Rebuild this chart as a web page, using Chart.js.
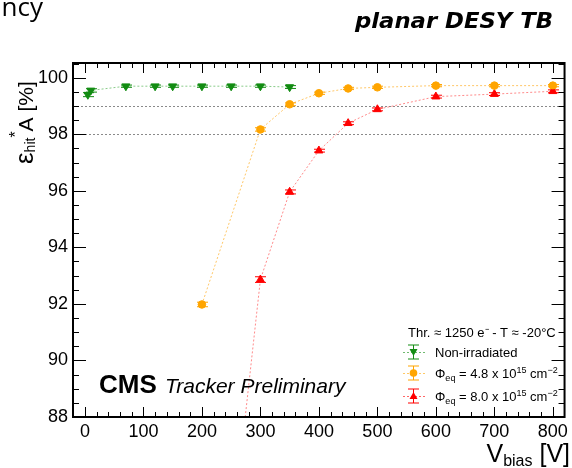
<!DOCTYPE html>
<html><head><meta charset="utf-8">
<script src="https://cdn.jsdelivr.net/npm/chart.js@4.4.1/dist/chart.umd.min.js"></script>
<style>html,body{margin:0;padding:0;background:#fff;overflow:hidden}canvas{display:block}</style>
</head><body>
<canvas id="c" width="572" height="468"></canvas>
<script>
// ---- data ----
const xTicks = [0,100,200,300,400,500,600,700,800];
const yTicks = [88,90,92,94,96,98,100];
const refLines = [98,99];

const vNonIrr   = [5,10,70,120,150,200,250,300,350];
const effNonIrr = [99.40,99.55,99.70,99.70,99.70,99.70,99.70,99.70,99.67];
const errNonIrr = [0.07,0.06,0.04,0.04,0.04,0.04,0.04,0.04,0.05];

const v48   = [200,300,350,400,450,500,600,700,800];
const eff48 = [91.98,98.17,99.06,99.45,99.62,99.66,99.72,99.72,99.72];
const err48 = [0.08,0.06,0.05,0.04,0.04,0.04,0.04,0.04,0.04];

const v80   = [250,300,350,400,450,500,600,700,800];
const eff80 = [83.5,92.86,95.96,97.42,98.39,98.88,99.33,99.42,99.52];
const err80 = [0.1,0.1,0.07,0.05,0.05,0.05,0.05,0.05,0.05];

const seriesNames = ['Non-irradiated','Φeq = 4.8 x 10^15 cm^-2','Φeq = 8.0 x 10^15 cm^-2'];

const FONT = '"Liberation Sans", Arial, sans-serif';
const GREEN = '#138c13', ORANGE = '#ffa500', RED = '#ff0000';

function pts(xs, ys){ return xs.map((x,i)=>({x:x, y:ys[i]})); }

function rich(ctx, x, y, parts){
  let cx = x;
  for (const p of parts){
    ctx.font = (p.style||'') + ' ' + p.size + 'px ' + FONT;
    ctx.fillText(p.t, cx, y + (p.dy||0));
    cx += ctx.measureText(p.t).width;
  }
  return cx;
}

const decor = {
  id:'decor',
  beforeDatasetsDraw(chart){
    const {ctx, chartArea:a, scales:{y}} = chart;
    ctx.save();
    ctx.strokeStyle = '#8a8a8a'; ctx.lineWidth = 1; ctx.setLineDash([2,2]);
    for (const v of refLines){
      const py = Math.round(y.getPixelForValue(v)) + 0.5;
      ctx.beginPath(); ctx.moveTo(a.left, py); ctx.lineTo(a.right, py); ctx.stroke();
    }
    ctx.restore();
  },
  afterDatasetsDraw(chart){
    const {ctx, chartArea:a, scales:{x, y}} = chart;
    ctx.save();
    ctx.beginPath(); ctx.rect(a.left, a.top, a.right-a.left, a.bottom-a.top); ctx.clip();
    chart.data.datasets.forEach((ds, di) => {
      const meta = chart.getDatasetMeta(di);
      ctx.strokeStyle = ds.markerColor; ctx.lineWidth = 1; ctx.setLineDash([]);
      meta.data.forEach((el, i) => {
        const v = ds.data[i].y, e = ds.err[i];
        const px = Math.round(el.x)+0.5;
        const t = y.getPixelForValue(v+e), b = y.getPixelForValue(v-e);
        ctx.beginPath();
        ctx.moveTo(px, t); ctx.lineTo(px, b);
        ctx.moveTo(px-5.5, t); ctx.lineTo(px+5.5, t);
        ctx.moveTo(px-5.5, b); ctx.lineTo(px+5.5, b);
        ctx.stroke();
      });
    });
    ctx.restore();

    ctx.save();
    ctx.strokeStyle = '#000'; ctx.lineWidth = 1;
    for (let v = -20; v <= 820; v += 20){
      const px = Math.round(x.getPixelForValue(v)) + 0.5;
      if (px < a.left || px > a.right) continue;
      const major = xTicks.includes(v);
      const L = major ? 10 : 5;
      ctx.beginPath();
      ctx.moveTo(px, a.bottom); ctx.lineTo(px, a.bottom - L);
      ctx.moveTo(px, a.top); ctx.lineTo(px, a.top + L);
      ctx.stroke();
    }
    for (let v = 88; v <= 100.5; v += 0.5){
      const py = Math.round(y.getPixelForValue(v)) + 0.5;
      const major = yTicks.includes(v);
      const L = major ? 13 : 6;
      ctx.beginPath();
      ctx.moveTo(a.left, py); ctx.lineTo(a.left + L, py);
      ctx.moveTo(a.right, py); ctx.lineTo(a.right - L, py);
      ctx.stroke();
    }
    ctx.lineWidth = 2;
    ctx.strokeRect(a.left, a.top, a.right - a.left, a.bottom - a.top);
    ctx.restore();

    // legend
    ctx.save();
    ctx.fillStyle = '#000'; ctx.textBaseline = 'alphabetic'; ctx.textAlign = 'left';
    rich(ctx, 408, 337, [{t:'Thr. ≈ 1250 e', size:13},{t:'⁻', size:13},{t:' - T ≈ -20°C', size:13}]);
    const rows = [
      {y:352, c:GREEN, shape:'down', parts:[{t:seriesNames[0], size:13}]},
      {y:373, c:ORANGE, shape:'circle', parts:[{t:'Φ',size:13},{t:'eq',size:9,dy:3},{t:' = 4.8 x 10',size:13},{t:'15',size:9,dy:-5},{t:' cm',size:13},{t:'−2',size:9,dy:-5}]},
      {y:396, c:RED, shape:'up', parts:[{t:'Φ',size:13},{t:'eq',size:9,dy:3},{t:' = 8.0 x 10',size:13},{t:'15',size:9,dy:-5},{t:' cm',size:13},{t:'−2',size:9,dy:-5}]}
    ];
    for (const r of rows){
      const mx = 413.5;
      ctx.strokeStyle = r.c; ctx.lineWidth = 1;
      ctx.setLineDash([2,2]);
      ctx.globalAlpha = 0.6;
      ctx.beginPath(); ctx.moveTo(403, r.y+0.5); ctx.lineTo(425, r.y+0.5); ctx.stroke();
      ctx.globalAlpha = 1; ctx.setLineDash([]);
      ctx.beginPath();
      ctx.moveTo(mx, r.y-7); ctx.lineTo(mx, r.y+7);
      ctx.moveTo(mx-5.5, r.y-7); ctx.lineTo(mx+5.5, r.y-7);
      ctx.moveTo(mx-5.5, r.y+7); ctx.lineTo(mx+5.5, r.y+7);
      ctx.stroke();
      ctx.fillStyle = r.c;
      ctx.beginPath();
      if (r.shape === 'circle'){ ctx.arc(mx, r.y, 3.8, 0, Math.PI*2); }
      else if (r.shape === 'down'){ ctx.moveTo(mx-4, r.y-3); ctx.lineTo(mx+4, r.y-3); ctx.lineTo(mx, r.y+4); ctx.closePath(); }
      else { ctx.moveTo(mx-4, r.y+3); ctx.lineTo(mx+4, r.y+3); ctx.lineTo(mx, r.y-4); ctx.closePath(); }
      ctx.fill();
      ctx.fillStyle = '#000';
      rich(ctx, 435, r.y + 4.5, r.parts);
    }
    ctx.fillStyle = '#000';
    ctx.font = 'bold 26px ' + FONT;
    ctx.fillText('CMS', 99, 393);
    ctx.font = 'italic 21px ' + FONT;
    ctx.fillText('Tracker Preliminary', 165, 393);
    ctx.restore();
  },
  afterDraw(chart){
    const {ctx} = chart;
    ctx.save();
    ctx.fillStyle = '#000';
    ctx.textBaseline = 'alphabetic';
    ctx.font = '26px "Open Sans", sans-serif';
    ctx.textAlign = 'right';
    ctx.fillText('ncy', 43, 16);
    ctx.textAlign = 'left';
    ctx.font = 'italic bold 22px "DejaVu Sans", sans-serif';
    const tw = ctx.measureText('planar DESY TB').width;
    ctx.save();
    ctx.translate(355, 28);
    ctx.scale(198 / tw, 1);
    ctx.fillText('planar DESY TB', 0, 0);
    ctx.restore();
    const parts = [{t:'V',size:25},{t:'bias',size:16,dy:4},{t:' [V]',size:25}];
    let w = 0;
    for (const p of parts){ ctx.font = p.size+'px '+FONT; w += ctx.measureText(p.t).width; }
    rich(ctx, 570 - w, 462, parts);
    ctx.translate(33, 164);
    ctx.rotate(-Math.PI/2);
    rich(ctx, 0, 0, [{t:'ε',size:26},{t:'hit',size:14,dy:2},{t:'*',size:16,dy:-12},{t:'A [%]',size:21}]);
    ctx.restore();
  }
};

new Chart(document.getElementById('c'), {
  type:'line',
  data:{datasets:[
    {label:seriesNames[0], data:pts(vNonIrr, effNonIrr), err:errNonIrr, markerColor:GREEN,
     borderColor:'rgba(40,160,40,0.55)', borderWidth:1, borderDash:[2,2], fill:false, tension:0,
     pointStyle:'triangle', rotation:180, pointRadius:4.6, pointBackgroundColor:GREEN, pointBorderColor:GREEN, pointBorderWidth:1},
    {label:seriesNames[1], data:pts(v48, eff48), err:err48, markerColor:ORANGE,
     borderColor:'rgba(255,175,40,0.7)', borderWidth:1, borderDash:[2,2], fill:false, tension:0,
     pointStyle:'circle', pointRadius:3.8, pointBackgroundColor:ORANGE, pointBorderColor:ORANGE, pointBorderWidth:1},
    {label:seriesNames[2], data:pts(v80, eff80), err:err80, markerColor:RED,
     borderColor:'rgba(255,60,60,0.6)', borderWidth:1, borderDash:[2,2], fill:false, tension:0,
     pointStyle:'triangle', pointRadius:4.6, pointBackgroundColor:RED, pointBorderColor:RED, pointBorderWidth:1}
  ]},
  options:{
    responsive:false, animation:false, devicePixelRatio:1,
    layout:{padding:{left:0, top:63, right:4, bottom:0}},
    plugins:{legend:{display:false}, tooltip:{enabled:false}},
    scales:{
      x:{type:'linear', min:-20.4, max:820,
         afterBuildTicks:s=>{ s.ticks = xTicks.map(v=>({value:v})); },
         afterFit:s=>{ s.height = 51; },
         grid:{display:false, drawTicks:false}, border:{display:false},
         ticks:{font:{family:FONT, size:18}, color:'#000', padding:4, maxRotation:0, autoSkip:false}},
      y:{type:'linear', min:88, max:100.52,
         afterBuildTicks:s=>{ s.ticks = yTicks.map(v=>({value:v})); },
         afterFit:s=>{ s.width = 73; },
         grid:{display:false, drawTicks:false}, border:{display:false},
         ticks:{font:{family:FONT, size:18}, color:'#000', padding:5, autoSkip:false}}
    }
  },
  plugins:[decor]
});
</script>
</body></html>
